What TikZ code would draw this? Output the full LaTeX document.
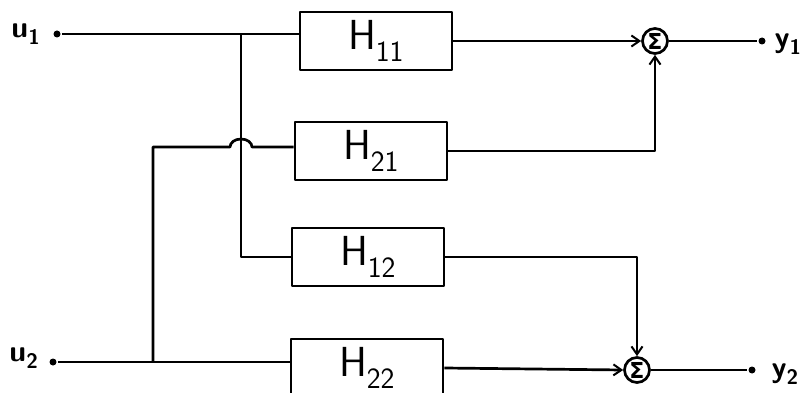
\documentclass[tikz,border=0pt]{standalone}
\usepackage{fontspec}
\newfontfamily\sigfont{DejaVu Sans}
\usetikzlibrary{arrows.meta}
\begin{document}
\begin{tikzpicture}[x=1pt,y=-1pt,
  line width=2.7pt, line join=round,
  box/.style={draw, minimum width=152pt, minimum height=58pt, inner sep=0pt, font=\fontsize{42}{44}\selectfont\sffamily},
  sumnode/.style={draw, circle, minimum size=25pt, inner sep=0pt, font=\fontsize{22}{24}\selectfont\sigfont\bfseries},
  port/.style={circle, fill, minimum size=7pt, inner sep=0pt},
  lbl/.style={font=\fontsize{30}{32}\selectfont\sffamily\bfseries},
  arr/.style={-{Straight Barb[length=8pt,width=11pt,line width=2pt]}}]
\useasboundingbox (0,0) rectangle (803,393);
\clip (0,0) rectangle (803,393);
% blocks
\node[box] (H11) at (376,41) {H\textsubscript{11}};
\node[box] (H21) at (371,151) {H\textsubscript{21}};
\node[box] (H12) at (368,257) {H\textsubscript{12}};
\node[box] (H22) at (367,368) {H\textsubscript{22}};
% summers
\node[sumnode] (S1) at (655,41) {Σ};
\node[sumnode] (S2) at (637,370) {Σ};
% ports
\node[port] (u1) at (57,34) {};
\node[port] (u2) at (53,362) {};
\node[port] (y1) at (762,41) {};
\node[port] (y2) at (752,370) {};
\node[lbl, anchor=east] (u1l) at (45,34) {u\textsubscript{1}};
\node[lbl, anchor=east] (u2l) at (43,358) {u\textsubscript{2}};
\node[lbl, anchor=west] (y1l) at (770,44) {y\textsubscript{1}};
\node[lbl, anchor=west] (y2l) at (767,374) {y\textsubscript{2}};
% junctions
\coordinate (j1) at (241,34);
\coordinate (j2) at (153,362);
\coordinate (c2) at (153,147);
\coordinate (hopA) at (230,147);
% inputs
\draw (u1) -- (u1 -| H11.west);
\draw (u2) -- (u2 -| H22.west);
\draw (j1) |- (H12.west);
\draw (j2) -- (c2) -- (hopA) arc[start angle=180, end angle=360, x radius=11, y radius=8] -- (c2 -| H21.west);
% outputs
\draw[arr] (H11.east) -- (S1.west);
\draw[arr] (H22.east) -- (S2.west);
\draw[arr] (H21.east) -| (S1.south);
\draw[arr] (H12.east) -| (S2.north);
\draw (S1.east) -- (y1);
\draw (S2.east) -- (y2);
\end{tikzpicture}
\end{document}
